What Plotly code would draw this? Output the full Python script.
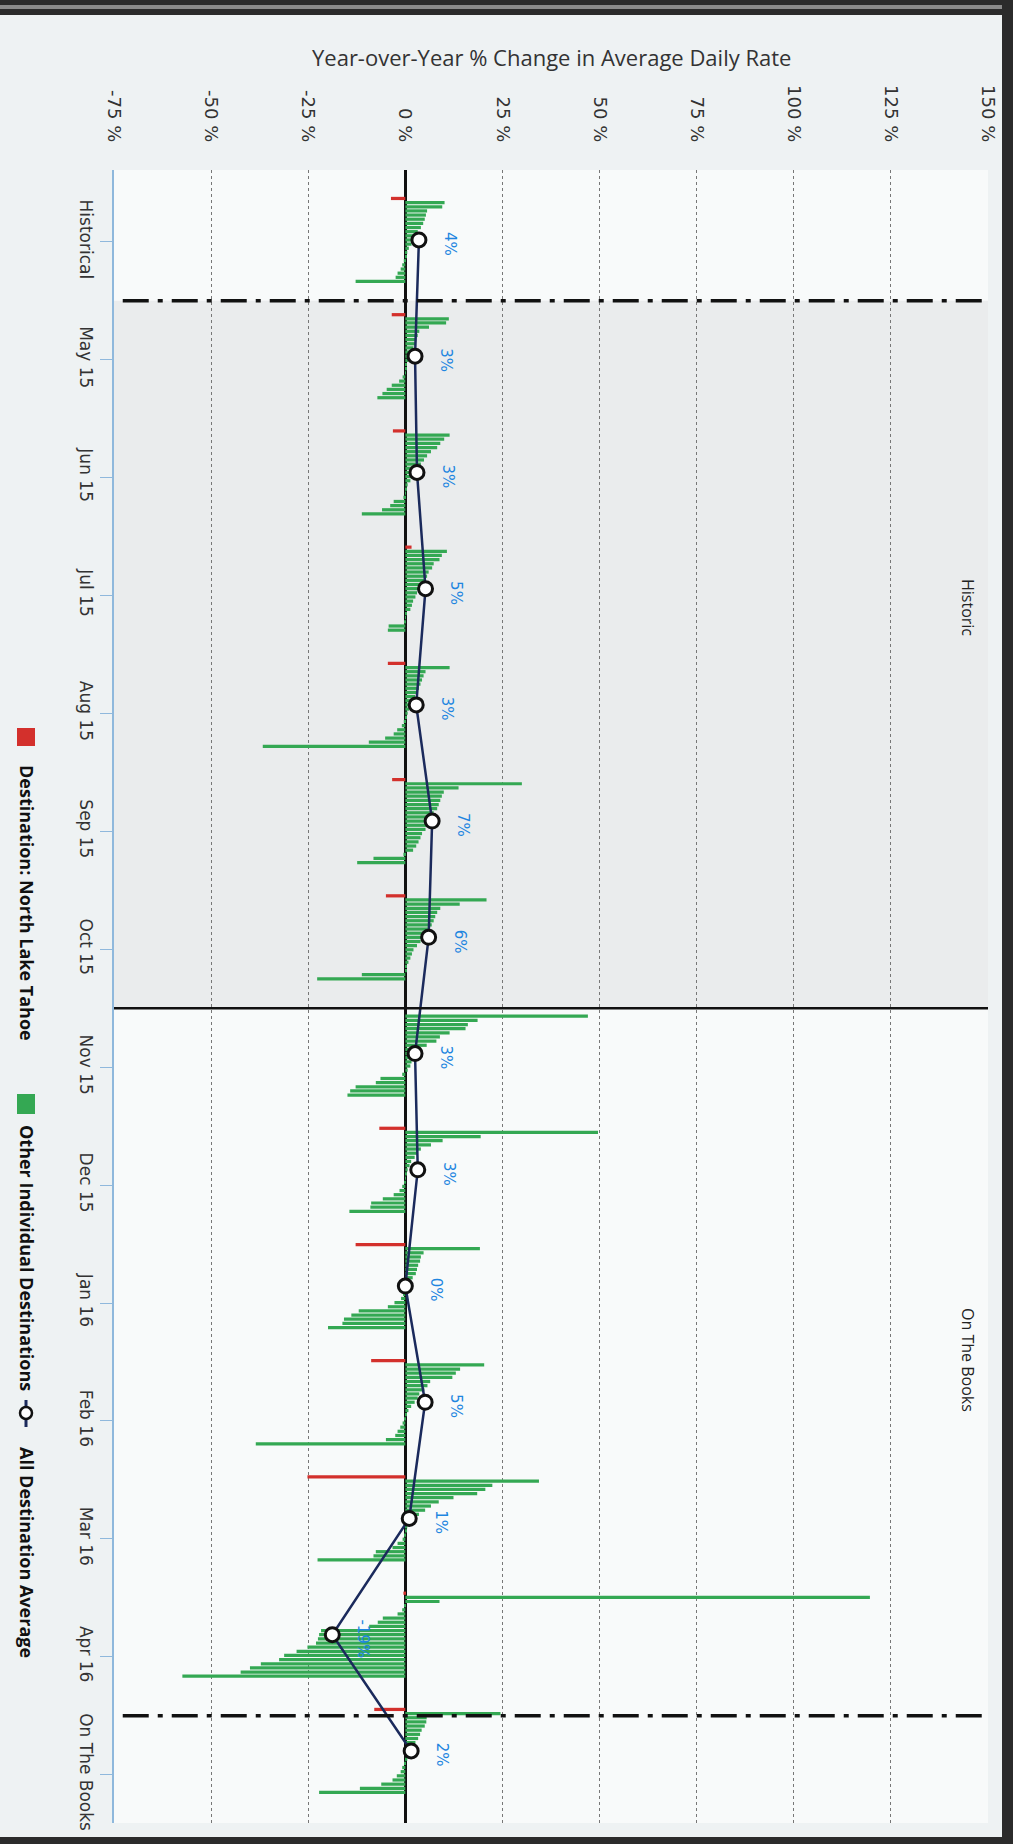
import plotly.graph_objects as go

# ---------------- data ----------------
categories = ["Historical", "May 15", "Jun 15", "Jul 15", "Aug 15", "Sep 15", "Oct 15",
              "Nov 15", "Dec 15", "Jan 16", "Feb 16", "Mar 16", "Apr 16", "On The Books"]

# Destination: North Lake Tahoe (one bar per period)
north_lake_tahoe = [-3.7, -3.5, -3.2, 1.6, -4.5, -3.4, -5.0, 0.0, -6.7, -12.8, -8.8, -25.2, -0.5, -8.0]

# Other individual destinations, per period, ranked from highest to lowest
other_historical = [10.1, 9.5, 5.6, 5.3, 5.0, 4.6, 4.0, 3.2, 2.4, 1.9, 1.6, 0.9, 0.5, 0.2, -0.4, -0.8, -1.2, -2.0, -2.5, -12.8]
other_may15 = [11.2, 10.5, 6.1, 3.6, 3.2, 2.8, 2.5, 2.1, 1.7, 1.2, 0.8, 0.4, 0.2, 0.1, -0.7, -1.6, -3.5, -4.8, -5.9, -7.2]
other_jun15 = [11.4, 10.0, 9.0, 8.2, 6.6, 5.6, 4.8, 4.0, 3.2, 2.6, 2.1, 1.3, 0.6, 0.3, 0.1, -0.5, -3.0, -3.9, -6.0, -11.2]
other_jul15 = [10.7, 9.4, 8.8, 7.3, 6.9, 6.0, 5.6, 5.1, 4.6, 4.0, 3.0, 2.6, 2.0, 1.7, 1.3, 0.4, 0.1, -0.3, -4.3, -4.5]
other_aug15 = [11.4, 5.2, 4.7, 4.3, 3.9, 3.5, 3.0, 2.5, 2.0, 1.5, 1.0, 0.6, 0.3, -0.4, -0.9, -2.1, -3.0, -5.2, -9.4, -36.7]
other_sep15 = [30.0, 13.7, 9.9, 9.4, 9.0, 8.6, 8.2, 7.3, 6.9, 6.4, 5.6, 5.2, 4.3, 3.9, 3.4, 2.8, 2.0, -0.5, -8.2, -12.4]
other_oct15 = [20.9, 14.0, 9.0, 8.2, 7.7, 7.3, 6.8, 6.2, 5.5, 4.7, 3.9, 3.0, 2.1, 1.7, 1.3, 0.8, 0.4, 0.2, -11.2, -22.7]
other_nov15 = [47.0, 18.6, 16.1, 15.5, 11.4, 8.9, 8.0, 5.5, 4.0, 3.0, 2.2, 1.6, 1.3, 0.6, -0.8, -6.4, -7.6, -12.8, -14.2, -14.9]
other_dec15 = [49.6, 19.4, 9.6, 6.6, 4.0, 3.2, 2.4, 1.5, 1.1, 0.6, 0.3, 0.1, -0.3, -0.8, -1.5, -3.0, -5.8, -8.8, -9.0, -14.4]
other_jan16 = [19.2, 4.7, 4.0, 3.8, 3.3, 3.0, 2.7, 1.9, 1.0, 0.4, -0.3, -0.6, -1.1, -2.8, -4.5, -12.0, -13.9, -15.8, -16.2, -19.9]
other_feb16 = [20.3, 14.1, 13.0, 12.1, 6.4, 5.7, 4.9, 3.6, 3.2, 2.4, 1.5, 0.8, 0.3, -0.2, -0.7, -1.3, -2.0, -2.6, -5.0, -38.5]
other_mar16 = [34.4, 22.4, 20.6, 18.5, 12.4, 8.6, 6.6, 5.1, 3.5, 2.0, 1.0, 0.5, 0.2, -0.3, -0.7, -2.0, -3.3, -7.6, -8.2, -22.6]
other_apr16 = [119.6, 8.8, -0.2, -0.8, -2.0, -5.8, -7.1, -9.3, -21.7, -22.2, -22.5, -23.0, -25.2, -28.0, -31.2, -32.5, -37.2, -40.0, -42.4, -57.4]
other_otb = [24.5, 5.5, 5.4, 5.0, 4.2, 3.8, 3.3, 2.6, 2.0, 1.4, 0.8, 0.5, -0.3, -0.8, -1.2, -2.2, -3.3, -6.2, -11.7, -22.2]

# All destination average
all_dest_avg = [3.5, 2.5, 3.0, 5.2, 2.8, 6.9, 6.0, 2.5, 3.2, 0.0, 5.1, 1.0, -18.8, 1.5]
all_dest_labels = ["4%", "3%", "3%", "5%", "3%", "7%", "6%", "3%", "3%", "0%", "5%", "1%", "-19%", "2%"]

x_tick_values = [-75, -50, -25, 0, 25, 50, 75, 100, 125, 150]
x_tick_labels = ["-75 %", "-50 %", "-25 %", "0 %", "25 %", "50 %", "75 %", "100 %", "125 %", "150 %"]

axis_title = "Year-over-Year % Change in Average Daily Rate"
band_labels = ["Historic", "On The Books"]
legend_labels = ["Destination: North Lake Tahoe", "Other Individual Destinations", "All Destination Average"]

# ---------------- styling ----------------
W, H = 1013, 1844
L, R, T, B = 114, 988, 170, 1823
RED = "#d3302c"
GREEN = "#34a853"
NAVY = "#1b2a5c"
BLUE_TXT = "#1f86e0"
TXT = "#333333"
TICKFONT = "DejaVu Sans, Verdana, sans-serif"
UIFONT = "Open Sans, Noto Sans, sans-serif"


def xp(px):
    return (px - L) / (R - L)


def yp(py):
    return (B - py) / (B - T)


others = [other_historical, other_may15, other_jun15, other_jul15, other_aug15, other_sep15,
          other_oct15, other_nov15, other_dec15, other_jan16, other_feb16, other_mar16,
          other_apr16, other_otb]
n_rank = max(len(v) for v in others)

fig = go.Figure()

fig.add_trace(go.Bar(
    x=north_lake_tahoe, y=categories, orientation="h",
    marker=dict(color=RED, line=dict(width=0)), name=legend_labels[0],
    showlegend=False,
))
for k in range(n_rank):
    fig.add_trace(go.Bar(
        x=[v[k] if k < len(v) else None for v in others], y=categories, orientation="h",
        marker=dict(color=GREEN, line=dict(width=0)), name=legend_labels[1],
        showlegend=False,
    ))

fig.add_trace(go.Scatter(
    x=all_dest_avg, y=categories, mode="lines+markers",
    line=dict(color=NAVY, width=2.5),
    marker=dict(symbol="circle", size=14, color="white", line=dict(color="#111111", width=3)),
    name=legend_labels[2], showlegend=False,
))

# invisible helper so the label axis is built
fig.add_trace(go.Scatter(x=[None], y=[None], yaxis="y2", showlegend=False, hoverinfo="skip"))

shapes = []
# shaded Historic band
shapes.append(dict(type="rect", xref="paper", yref="y2", x0=0, x1=1, y0=0.5, y1=6.5,
                   fillcolor="#eaeced", line=dict(width=0), layer="below"))
# dash-dot separators
for yv in (0.5, 12.5):
    shapes.append(dict(type="line", xref="paper", yref="y2", x0=0.01, x1=1, y0=yv, y1=yv,
                       line=dict(color="#111111", width=3.5, dash="26px,9px,5px,9px")))
# solid historic / on-the-books divider
shapes.append(dict(type="line", xref="paper", yref="y2", x0=0, x1=1, y0=6.5, y1=6.5,
                   line=dict(color="#111111", width=2.5)))

# page frame
shapes.append(dict(type="rect", xref="paper", yref="paper", x0=xp(0), x1=xp(W), y0=yp(15), y1=yp(0),
                   fillcolor="#2b2b2b", line=dict(width=0), layer="above"))
shapes.append(dict(type="rect", xref="paper", yref="paper", x0=xp(0), x1=xp(W), y0=yp(9), y1=yp(5),
                   fillcolor="#8a8a8a", line=dict(width=0), layer="above"))
shapes.append(dict(type="rect", xref="paper", yref="paper", x0=xp(1002), x1=xp(W), y0=yp(H), y1=yp(0),
                   fillcolor="#2b2b2b", line=dict(width=0), layer="above"))
shapes.append(dict(type="rect", xref="paper", yref="paper", x0=xp(0), x1=xp(W), y0=yp(H), y1=yp(1837),
                   fillcolor="#2b2b2b", line=dict(width=0), layer="above"))

# legend symbols
shapes.append(dict(type="rect", xref="paper", yref="paper", x0=xp(17), x1=xp(35), y0=yp(746), y1=yp(728),
                   fillcolor=RED, line=dict(width=0)))
shapes.append(dict(type="rect", xref="paper", yref="paper", x0=xp(17), x1=xp(35), y0=yp(1114), y1=yp(1094),
                   fillcolor=GREEN, line=dict(width=0)))
shapes.append(dict(type="line", xref="paper", yref="paper", x0=xp(26), x1=xp(26), y0=yp(1427), y1=yp(1400),
                   line=dict(color=NAVY, width=3)))
shapes.append(dict(type="circle", xref="paper", yref="paper", x0=xp(20), x1=xp(32), y0=yp(1419), y1=yp(1407),
                   fillcolor="white", line=dict(color="#111111", width=2.5)))

annotations = []
annotations.append(dict(text=axis_title, xref="paper", yref="paper", x=0.5, y=yp(57),
                        showarrow=False, font=dict(family=UIFONT, size=22, color=TXT),
                        xanchor="center", yanchor="middle"))
for txt, cy in zip(legend_labels, (903, 1258, 1552)):
    annotations.append(dict(text="<b>" + txt + "</b>", xref="paper", yref="paper", x=xp(27), y=yp(cy),
                            showarrow=False, textangle=90, font=dict(family=UIFONT, size=18, color="#111111"),
                            xanchor="center", yanchor="middle"))
for txt, cy in zip(band_labels, (607, 1360)):
    annotations.append(dict(text=txt, xref="paper", yref="paper", x=xp(968), y=yp(cy),
                            showarrow=False, textangle=90, font=dict(family=UIFONT, size=16, color="#222222"),
                            xanchor="center", yanchor="middle"))
for v, lab, c in zip(all_dest_avg, all_dest_labels, categories):
    annotations.append(dict(text=lab, x=v, y=c, xref="x", yref="y", xshift=31, yshift=-4,
                            showarrow=False, textangle=90, font=dict(family=TICKFONT, size=15, color=BLUE_TXT),
                            xanchor="center", yanchor="middle"))

fig.update_layout(
    width=W, height=H,
    margin=dict(l=L, r=W - R, t=T, b=H - B, pad=0),
    paper_bgcolor="#eef2f3",
    plot_bgcolor="#f8fafa",
    barmode="group", bargap=0.25, bargroupgap=0.22,
    showlegend=False,
    shapes=shapes, annotations=annotations,
    xaxis=dict(
        range=[-75, 150], side="top", tickvals=x_tick_values, ticktext=x_tick_labels,
        tickangle=90, tickfont=dict(family=TICKFONT, size=18, color=TXT),
        ticks="", ticklabelstandoff=24,
        showgrid=True, gridcolor="#777777", griddash="dot", gridwidth=1,
        zeroline=True, zerolinecolor="#111111", zerolinewidth=2.5,
        showline=False, fixedrange=True,
    ),
    yaxis=dict(
        type="category", categoryorder="array", categoryarray=categories,
        range=[13.62, -0.602], showticklabels=False, ticks="", showgrid=False,
        zeroline=False, showline=False, fixedrange=True,
    ),
    yaxis2=dict(
        overlaying="y", anchor="x", side="left", range=[13.41, -0.61],
        tickvals=list(range(len(categories))), ticktext=categories,
        tickangle=90, tickfont=dict(family=TICKFONT, size=17, color=TXT),
        ticks="outside", ticklen=12, tickcolor="#8fb8dc", tickwidth=1,
        showline=True, linecolor="#8fb8dc", linewidth=1.5,
        showgrid=False, zeroline=False, fixedrange=True,
    ),
)

page_fix = ("document.documentElement.style.margin='0';document.body.style.margin='0';"
            "document.documentElement.style.overflow='hidden';document.body.style.overflow='hidden';"
            "document.body.style.background='#eef2f3';")
fig.write_html("out.html", post_script=page_fix, config={"displayModeBar": False})
